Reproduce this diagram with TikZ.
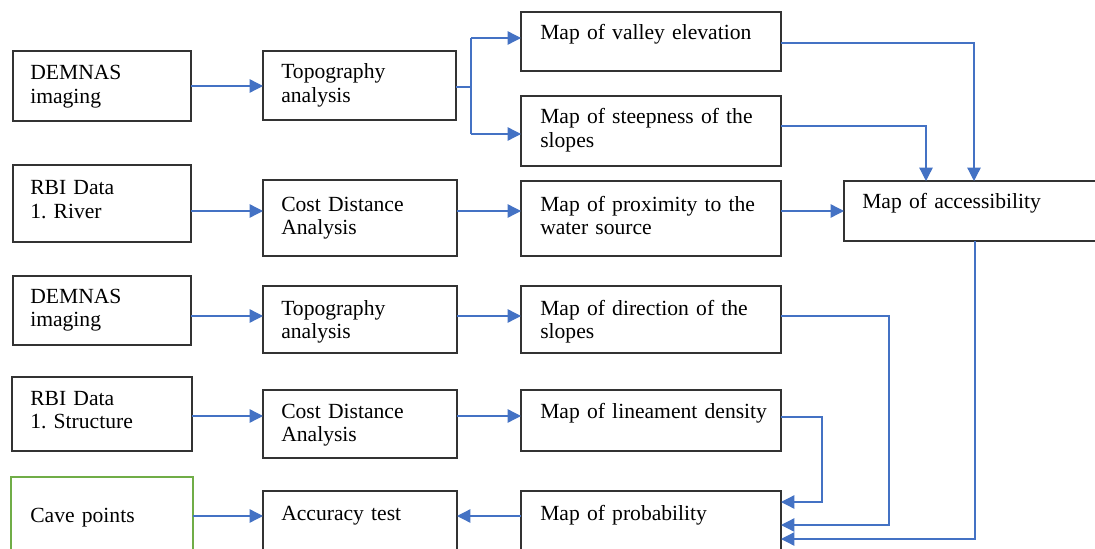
\documentclass[tikz,border=0pt]{standalone}
\usepackage{fontspec}
\setmainfont{Liberation Serif}
\usetikzlibrary{arrows.meta,calc}
\definecolor{lnblue}{HTML}{4472C4}
\definecolor{bxgray}{HTML}{333333}
\definecolor{cvgreen}{HTML}{70AD47}
\newcommand\boxfont{\fontsize{16.2}{17.6}\selectfont\frenchspacing\spaceskip=0.17em plus 0.05em\relax}
\tikzset{
  box/.style={draw=bxgray, line width=1.2pt, rectangle, inner sep=0pt, outer sep=0pt, anchor=north west},
  greenbox/.style={draw=cvgreen, line width=2pt},
  txt/.style={anchor=base west, inner sep=0pt, align=left, text width=260pt, font=\boxfont},
  arr/.style={draw=lnblue, line width=1pt, -{Triangle[length=10pt,width=10pt]}},
  ln/.style={draw=lnblue, line width=1pt},
}
\newcommand\mybox[6][]{\node[box,#1, minimum width=#5*0.75pt, minimum height=#6*0.75pt] (#2) at (#3,#4) {};}
\newcommand\mytext[4]{\node[txt] (#1t) at ($(#1.north west)+(#2,#3)$) {#4};}
\begin{document}
\begin{tikzpicture}[x=0.75pt,y=-0.75pt]
\clip (0,0) rectangle (1095,549);
\fill[white] (0,0) rectangle (1095,549);
% boxes
\mybox{d1}{13}{51}{178}{70}
\mybox{t1}{263}{51}{193}{69}
\mybox{v}{521}{12}{260}{59}
\mybox{s}{521}{96}{260}{70}
\mybox{r1}{13}{165}{178}{77}
\mybox{c1}{263}{180}{194}{76}
\mybox{p}{521}{181}{260}{75}
\mybox{a}{844}{181}{300}{60}
\mybox{d2}{13}{276}{178}{69}
\mybox{t2}{263}{286}{194}{67}
\mybox{dir}{521}{286}{260}{67}
\mybox{r2}{12}{377}{180}{74}
\mybox{c2}{263}{390}{194}{68}
\mybox{l}{521}{390}{260}{61}
\mybox[greenbox]{cave}{11}{477}{182}{100}
\mybox{acc}{263}{491}{194}{100}
\mybox{prob}{521}{491}{260}{100}
% texts
\mytext{d1}{17}{29}{DEMNAS\\imaging}
\mytext{t1}{18}{28}{Topography\\analysis}
\mytext{v}{19}{28}{Map of valley elevation}
\mytext{s}{19}{28}{Map of steepness of the\\slopes}
\mytext{r1}{17}{30}{RBI Data\\1. River}
\mytext{c1}{18}{31}{Cost Distance\\Analysis}
\mytext{p}{19}{30}{Map of proximity to the\\water source}
\mytext{a}{18}{28}{Map of accessibility}
\mytext{d2}{17}{27}{DEMNAS\\imaging}
\mytext{t2}{18}{29}{Topography\\analysis}
\mytext{dir}{19}{29}{Map of direction of the\\slopes}
\mytext{r2}{18}{28}{RBI Data\\1. Structure}
\mytext{c2}{18}{28}{Cost Distance\\Analysis}
\mytext{l}{19}{28}{Map of lineament density}
\mytext{cave}{19}{45}{Cave points}
\mytext{acc}{18}{29}{Accuracy test}
\mytext{prob}{19}{29}{Map of probability}
% connectors row 1
\draw[arr] (d1.east) -- (d1.east -| t1.west);
\coordinate (br) at (471,87);
\coordinate (bt) at (471,38);
\coordinate (bb) at (471,134);
\draw[ln] (t1.east |- br) -- (br);
\draw[ln] (bt) -- (bb);
\draw[arr] (bt) -- (bt -| v.west);
\draw[arr] (bb) -- (bb -| s.west);
\coordinate (va) at (974,43);
\draw[arr] (v.east |- va) -- (va) -- (va |- a.north);
\coordinate (sa) at (926,126);
\draw[arr] (s.east |- sa) -- (sa) -- (sa |- a.north);
% row 2
\coordinate (y2) at (0,211);
\draw[arr] (r1.east |- y2) -- (c1.west |- y2);
\draw[arr] (c1.east |- y2) -- (p.west |- y2);
\draw[arr] (p.east |- y2) -- (a.west |- y2);
\coordinate (ap) at (975,539);
\draw[arr] (ap |- a.south) -- (ap) -- (ap -| prob.east);
% row 3
\coordinate (y3) at (0,316);
\draw[arr] (d2.east |- y3) -- (t2.west |- y3);
\draw[arr] (t2.east |- y3) -- (dir.west |- y3);
\coordinate (dp) at (889,316);
\coordinate (dq) at (889,525);
\draw[arr] (dir.east |- dp) -- (dp) -- (dq) -- (dq -| prob.east);
% row 4
\coordinate (y4) at (0,416);
\draw[arr] (r2.east |- y4) -- (c2.west |- y4);
\draw[arr] (c2.east |- y4) -- (l.west |- y4);
\coordinate (lp) at (822,417);
\coordinate (lq) at (822,502);
\draw[arr] (l.east |- lp) -- (lp) -- (lq) -- (lq -| prob.east);
% row 5
\coordinate (y5) at (0,516);
\draw[arr] (cave.east |- y5) -- (acc.west |- y5);
\draw[arr] (prob.west |- y5) -- (acc.east |- y5);
\end{tikzpicture}
\end{document}
